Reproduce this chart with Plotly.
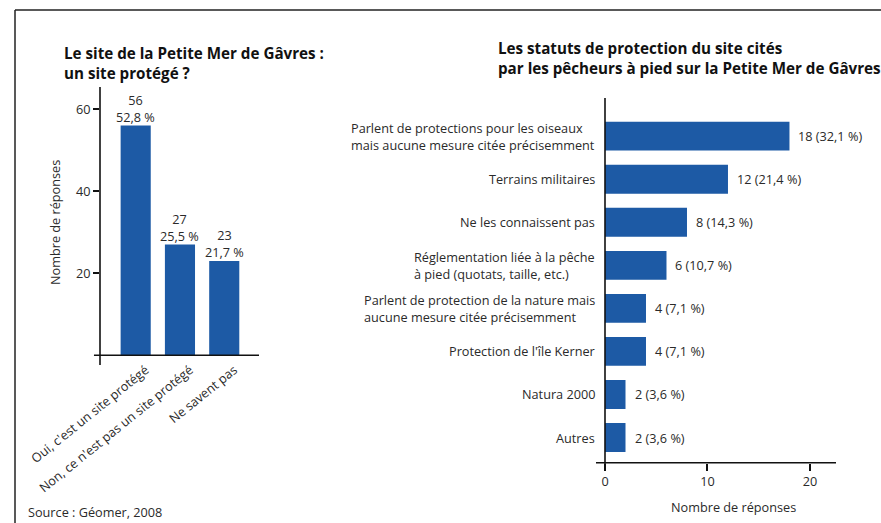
import plotly.graph_objects as go

W, H = 881, 523

# --- left panel: is the site protected? ---
site_cats = ["Oui, c'est un site protégé", "Non, ce n'est pas un site protégé", "Ne savent pas"]
site_counts = [56, 27, 23]
site_pcts = ["52,8 %", "25,5 %", "21,7 %"]
site_ticks = [20, 40, 60]

# --- right panel: protection statuses quoted by the fishermen ---
status_cats = [
    "Parlent de protections pour les oiseaux<br>mais aucune mesure citée précisemment",
    "Terrains militaires",
    "Ne les connaissent pas",
    "Réglementation liée à la pêche<br>à pied (quotats, taille, etc.)",
    "Parlent de protection de la nature mais<br>aucune mesure citée précisemment",
    "Protection de l'île Kerner",
    "Natura 2000",
    "Autres",
]
status_counts = [18, 12, 8, 6, 4, 4, 2, 2]
status_pcts = ["32,1 %", "21,4 %", "14,3 %", "10,7 %", "7,1 %", "7,1 %", "3,6 %", "3,6 %"]
status_ticks = [0, 10, 20]

BLUE = "#1d5aa5"
INK = "#2a2a2a"
FONT = "Open Sans"
FS = 12.7
TFS = 15.2


def px(x):
    return x / W


def py(y):
    return 1 - y / H


fig = go.Figure()

fig.add_trace(go.Bar(
    x=site_cats, y=site_counts, width=0.68,
    marker=dict(color=BLUE, line=dict(width=0)),
    xaxis="x", yaxis="y", hoverinfo="skip",
))
fig.add_trace(go.Bar(
    x=status_counts, y=status_cats, orientation="h", width=0.67,
    marker=dict(color=BLUE, line=dict(width=0)),
    xaxis="x2", yaxis="y2", hoverinfo="skip",
))

annotations = []

# value labels above the left bars
for c, n, p in zip(site_cats, site_counts, site_pcts):
    annotations.append(dict(
        x=c, y=n, xref="x", yref="y", text=f"{n}<br>{p}",
        showarrow=False, yanchor="bottom", yshift=-2, align="center",
        font=dict(family=FONT, size=FS, color=INK),
    ))

# category labels and value labels of the right bars
for c, n, p in zip(status_cats, status_counts, status_pcts):
    annotations.append(dict(
        x=px(597), y=c, xref="paper", yref="y2", text=c,
        showarrow=False, xanchor="right", yanchor="middle", align="left",
        font=dict(family=FONT, size=FS, color=INK),
    ))
    annotations.append(dict(
        x=n, y=c, xref="x2", yref="y2", text=f"{n} ({p})",
        showarrow=False, xanchor="left", yanchor="middle", xshift=7,
        font=dict(family=FONT, size=FS, color=INK),
    ))

# titles, axis titles and source
annotations += [
    dict(x=px(62), y=py(41), xref="paper", yref="paper", xanchor="left", yanchor="top",
         align="left", showarrow=False,
         text="<b>Le site de la Petite Mer de Gâvres :<br>un site protégé ?</b>",
         font=dict(family=FONT, size=TFS, color="#111")),
    dict(x=px(496), y=py(36), xref="paper", yref="paper", xanchor="left", yanchor="top",
         align="left", showarrow=False,
         text="<b>Les statuts de protection du site cités<br>par les pêcheurs à pied sur la Petite Mer de Gâvres</b>",
         font=dict(family=FONT, size=TFS, color="#111")),
    dict(x=px(55), y=py(223), xref="paper", yref="paper", textangle=-90,
         xanchor="center", yanchor="middle",
         showarrow=False, text="Nombre de réponses",
         font=dict(family=FONT, size=FS, color=INK)),
    dict(x=px(733), y=py(507), xref="paper", yref="paper",
         xanchor="center", yanchor="middle",
         showarrow=False, text="Nombre de réponses",
         font=dict(family=FONT, size=FS, color=INK)),
    dict(x=px(26), y=py(512), xref="paper", yref="paper", xanchor="left", yanchor="middle",
         showarrow=False, text="Source : Géomer, 2008",
         font=dict(family=FONT, size=FS, color=INK)),
]

axis_line = dict(color="#111", width=1.6)
shapes = [
    # frame
    dict(type="line", xref="paper", yref="paper", x0=px(15), x1=1, y0=py(10), y1=py(10),
         line=dict(color="#222", width=1.5)),
    dict(type="line", xref="paper", yref="paper", x0=px(15), x1=px(15), y0=py(10), y1=0,
         line=dict(color="#222", width=1.5)),
    # left axes (crossing slightly past each other)
    dict(type="line", xref="x domain", yref="y domain", x0=0, x1=0, y0=-0.036, y1=1, line=axis_line),
    dict(type="line", xref="x domain", yref="y domain", x0=-0.038, x1=1, y0=0, y1=0, line=axis_line),
    # right axes
    dict(type="line", xref="x2 domain", yref="y2 domain", x0=0, x1=0, y0=-0.008, y1=1, line=axis_line),
    dict(type="line", xref="x2 domain", yref="y2 domain", x0=-0.039, x1=1, y0=0, y1=0, line=axis_line),
]

tickfont = dict(family=FONT, size=FS, color=INK)

fig.update_layout(
    width=W, height=H, autosize=False,
    margin=dict(l=0, r=0, t=0, b=0),
    paper_bgcolor="white", plot_bgcolor="rgba(0,0,0,0)",
    showlegend=False,
    font=dict(family=FONT, size=FS, color=INK),
    annotations=annotations,
    shapes=shapes,
    xaxis=dict(
        domain=[px(100), px(259)], anchor="y", type="category",
        categoryorder="array", categoryarray=site_cats,
        range=[-0.806, 2.785], tickangle=-39, ticks="",
        ticklabelshift=10, ticklabelstandoff=4,
        showline=False, showgrid=False, zeroline=False, automargin=False,
        tickfont=tickfont,
    ),
    yaxis=dict(
        domain=[py(355.3), py(87)], anchor="x",
        range=[0, 65.4], tickvals=site_ticks,
        ticks="outside", ticklen=6, tickwidth=1.5, tickcolor="#111",
        showline=False, showgrid=False, zeroline=False, automargin=False,
        tickfont=tickfont,
    ),
    xaxis2=dict(
        domain=[px(605), px(836)], anchor="y2",
        range=[0, 22.54], tickvals=status_ticks,
        ticks="outside", ticklen=7, tickwidth=1.5, tickcolor="#111",
        showline=False, showgrid=False, zeroline=False, automargin=False,
        tickfont=tickfont,
    ),
    yaxis2=dict(
        domain=[py(462.7), py(98)], anchor="x2", type="category",
        categoryorder="array", categoryarray=status_cats,
        range=[7.585, -0.887], showticklabels=False, ticks="",
        showline=False, showgrid=False, zeroline=False, automargin=False,
    ),
)

fig.write_html("out.html")
